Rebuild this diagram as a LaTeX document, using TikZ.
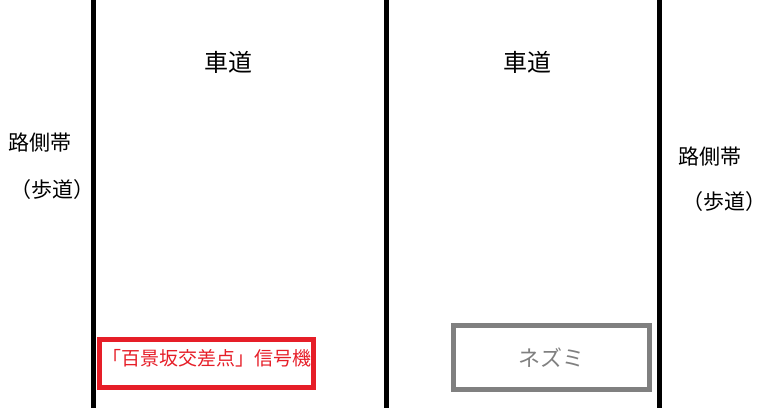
\documentclass[tikz,border=0pt]{standalone}
\usepackage{fontspec}
\setmainfont{Noto Sans CJK JP}
\usetikzlibrary{positioning}
\definecolor{signalred}{RGB}{230,30,40}
\definecolor{mousegray}{RGB}{128,128,128}
\tikzset{
  laneline/.style = {line width=4.5pt, draw=black},
  roadlabel/.style = {font=\fontsize{24}{28}\selectfont, inner sep=0pt},
  sidelabel/.style = {font=\fontsize{21}{25}\selectfont, inner sep=0pt, align=center},
  signalbox/.style = {shape=rectangle, draw=signalred, line width=5pt,
                      text=signalred, font=\fontsize{19}{23}\selectfont,
                      minimum width=214pt, minimum height=48pt, inner sep=0pt,
                      text depth=12pt},
  mousebox/.style = {shape=rectangle, draw=mousegray, line width=5pt,
                     text=mousegray, font=\fontsize{22}{26}\selectfont,
                     minimum width=196pt, minimum height=64pt, inner sep=0pt}
}
\begin{document}
\begin{tikzpicture}[x=1pt, y=-1pt]
            \useasboundingbox (0,0) rectangle (771,408);

            \coordinate (lt) at (93.5,0);
            \coordinate (lb) at (93.5,408);
            \coordinate (mt) at (386.5,0);
            \coordinate (mb) at (386.5,408);
            \coordinate (rt) at (659.5,0);
            \coordinate (rb) at (659.5,408);

            \draw [laneline] (lt) -- (lb);
            \draw [laneline] (mt) -- (mb);
            \draw [laneline] (rt) -- (rb);

            \node (roadl) [roadlabel] at (228,62) {車道};
            \node (roadr) [roadlabel] at (527,62) {車道};

            \node (sidel) [sidelabel] at (40,143) {路側帯};
            \node (walkl) [sidelabel, below=26pt of sidel, xshift=12pt] {（歩道）};
            \node (sider) [sidelabel] at (710,157) {路側帯};
            \node (walkr) [sidelabel, below=24pt of sider, xshift=14pt] {（歩道）};

            \node (signal) [signalbox] at (206.5,363.5) {「百景坂交差点」信号機};
            \node (mouse) [mousebox] at (551.5,357.5) {ネズミ};
        \end{tikzpicture}
\end{document}
